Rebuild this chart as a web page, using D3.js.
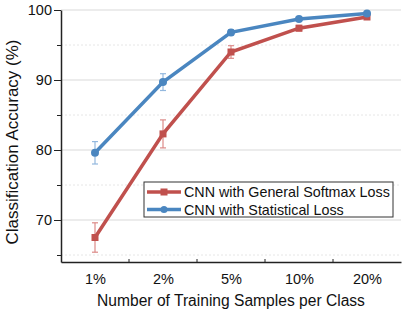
<!DOCTYPE html>
<html>
<head>
<meta charset="utf-8">
<script src="https://cdn.jsdelivr.net/npm/d3@7"></script>
<style>
  body { margin: 0; background: #fff; }
  text { font-family: "Liberation Sans", Arial, sans-serif; fill: #111; }
</style>
</head>
<body>
<div id="wrapper"></div>
<script>
const categories = ["1%", "2%", "5%", "10%", "20%"]
const softmaxAcc = [67.5, 82.3, 94.0, 97.4, 99.0]
const softmaxErr = [2.1, 2.0, 0.9, 0.4, 0.3]
const statAcc = [79.6, 89.7, 96.8, 98.7, 99.5]
const statErr = [1.6, 1.2, 0.4, 0.3, 0.2]
const yTicks = [70, 80, 90, 100]
const yMinorTicks = [65, 75, 85, 95]

const series = [
  { name: "CNN with General Softmax Loss", values: softmaxAcc, errors: softmaxErr,
    color: "#c0504d", errColor: "#dc8a88", marker: "square" },
  { name: "CNN with Statistical Loss", values: statAcc, errors: statErr,
    color: "#4a86c0", errColor: "#93b8de", marker: "circle" },
]

const dimensions = {
  width: 407,
  height: 316,
  margin: { top: 10, right: 6, bottom: 54, left: 61 },
}
dimensions.boundedWidth = dimensions.width - dimensions.margin.left - dimensions.margin.right
dimensions.boundedHeight = dimensions.height - dimensions.margin.top - dimensions.margin.bottom

const wrapper = d3.select("#wrapper")
  .append("svg")
  .attr("width", dimensions.width)
  .attr("height", dimensions.height)

const bounds = wrapper.append("g")
  .attr("transform", `translate(${dimensions.margin.left},${dimensions.margin.top})`)

const xScale = d3.scalePoint()
  .domain(categories)
  .range([0, dimensions.boundedWidth])
  .padding(0.5)

const yScale = d3.scaleLinear()
  .domain([64, 100])
  .range([dimensions.boundedHeight, 0])

// grid lines
bounds.selectAll(".grid-major")
  .data(yTicks)
  .join("line")
  .attr("x1", 0).attr("x2", dimensions.boundedWidth)
  .attr("y1", d => yScale(d)).attr("y2", d => yScale(d))
  .attr("stroke", "#d9d9d9")
  .attr("stroke-width", 1)

bounds.selectAll(".grid-minor")
  .data(yMinorTicks)
  .join("line")
  .attr("x1", 0).attr("x2", dimensions.boundedWidth)
  .attr("y1", d => yScale(d)).attr("y2", d => yScale(d))
  .attr("stroke", "#e6e6e6")
  .attr("stroke-width", 1)
  .attr("stroke-dasharray", "2,2")

// axes
const yAxis = bounds.append("g")
  .call(d3.axisLeft(yScale).tickValues(yTicks).tickSize(7).tickSizeOuter(0).tickPadding(2))
yAxis.append("g")
  .call(d3.axisLeft(yScale).tickValues(yMinorTicks).tickSize(4).tickFormat(""))
  .select(".domain").remove()

const xAxis = bounds.append("g")
  .attr("transform", `translate(0,${dimensions.boundedHeight})`)
  .call(d3.axisBottom(xScale).tickSize(0).tickPadding(12))
const step = xScale.step()
const minorX = categories.slice(0, -1).map(c => xScale(c) + step / 2)
xAxis.selectAll(".minor")
  .data(minorX)
  .join("line")
  .attr("x1", d => d).attr("x2", d => d)
  .attr("y1", 0).attr("y2", -3)
  .attr("stroke", "#222")

bounds.selectAll(".domain").attr("stroke", "#222").attr("stroke-width", 1.5)
bounds.selectAll(".tick line").attr("stroke", "#222")
bounds.selectAll(".tick text").style("font-size", "14.5px").attr("fill", "#111")

// series
const line = d3.line()
  .x((d, i) => xScale(categories[i]))
  .y(d => yScale(d))

series.forEach(s => {
  const g = bounds.append("g")
  const errs = g.selectAll(".err")
    .data(s.values)
    .join("g")
    .attr("stroke", s.errColor)
    .attr("stroke-width", 1.2)
  errs.append("line")
    .attr("x1", (d, i) => xScale(categories[i])).attr("x2", (d, i) => xScale(categories[i]))
    .attr("y1", (d, i) => yScale(d + s.errors[i])).attr("y2", (d, i) => yScale(d - s.errors[i]))
  ;[1, -1].forEach(sign => {
    errs.append("line")
      .attr("x1", (d, i) => xScale(categories[i]) - 3).attr("x2", (d, i) => xScale(categories[i]) + 3)
      .attr("y1", (d, i) => yScale(d + sign * s.errors[i])).attr("y2", (d, i) => yScale(d + sign * s.errors[i]))
  })

  g.append("path")
    .datum(s.values)
    .attr("d", line)
    .attr("fill", "none")
    .attr("stroke", s.color)
    .attr("stroke-width", 3.5)

  if (s.marker === "square") {
    g.selectAll(".mk")
      .data(s.values)
      .join("rect")
      .attr("x", (d, i) => xScale(categories[i]) - 3.5)
      .attr("y", d => yScale(d) - 3.5)
      .attr("width", 7).attr("height", 7)
      .attr("fill", s.color)
  } else {
    g.selectAll(".mk")
      .data(s.values)
      .join("circle")
      .attr("cx", (d, i) => xScale(categories[i]))
      .attr("cy", d => yScale(d))
      .attr("r", 4)
      .attr("fill", s.color)
  }
})

// legend
const legend = bounds.append("g")
  .attr("transform", `translate(${144 - dimensions.margin.left},${182 - dimensions.margin.top})`)
legend.append("rect")
  .attr("width", 249).attr("height", 35)
  .attr("fill", "#fff")
  .attr("stroke", "#333")
  .attr("stroke-width", 1)
series.forEach((s, i) => {
  const row = legend.append("g").attr("transform", `translate(0,${10 + i * 17.5})`)
  row.append("line")
    .attr("x1", 3).attr("x2", 37)
    .attr("stroke", s.color).attr("stroke-width", 3.5)
  if (s.marker === "square") {
    row.append("rect").attr("x", 16.5).attr("y", -3.5).attr("width", 7).attr("height", 7).attr("fill", s.color)
  } else {
    row.append("circle").attr("cx", 20).attr("r", 3.5).attr("fill", s.color)
  }
  row.append("text")
    .attr("x", 40).attr("dy", "0.35em")
    .style("font-size", "14.3px")
    .text(s.name)
})

// labels
wrapper.append("text")
  .attr("x", 231)
  .attr("y", 306)
  .attr("text-anchor", "middle")
  .style("font-size", "15.6px")
  .text("Number of Training Samples per Class")

wrapper.append("text")
  .attr("transform", `translate(18,${dimensions.margin.top + dimensions.boundedHeight / 2 + 6}) rotate(-90)`)
  .attr("text-anchor", "middle")
  .style("font-size", "17px")
  .text("Classification Accuracy (%)")
</script>
</body>
</html>
